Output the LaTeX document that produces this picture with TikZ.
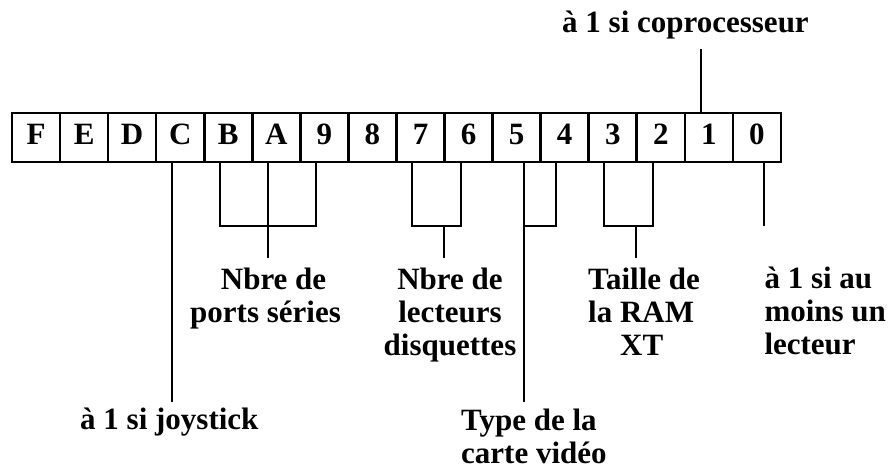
\documentclass[tikz,border=0pt]{standalone}
\usepackage{fontspec}
\setmainfont{Liberation Serif}
\usetikzlibrary{calc}
\begin{document}
\begin{tikzpicture}[x=1pt,y=-1pt,
  bitbox/.style={draw,line width=2.6pt,minimum width=48.06pt,minimum height=49pt,
    inner sep=0pt,text height=21pt,text depth=6pt,
    font=\bfseries\fontsize{31}{33}\selectfont},
  wire/.style={line width=2.3pt},
  lbl/.style={inner sep=0pt,align=left,font=\bfseries\fontsize{31}{33}\selectfont},
]
\useasboundingbox (0,0) rectangle (891,470);

% the sixteen bit cells, F (bit 15) down to 0
\foreach \lab [count=\i from 0] in {F,E,D,C,B,A,9,8,7,6,5,4,3,2,1,0}
  \node[bitbox] (b\lab) at ({12+48.06*(\i+0.5)},137.5) {\lab};

% labels (base anchor = baseline of the last line)
\node[lbl,anchor=base west] (lcop) at (562,33) {à 1 si coprocesseur};
\node[lbl,anchor=base west] (lser) at (190,322) {\hspace*{30.7pt}Nbre de\\ports séries};
\node[lbl,align=center,anchor=base] (ldsk) at (450,355) {Nbre de\\lecteurs\\disquettes};
\node[lbl,anchor=base west] (lram) at (588,355) {Taille de\\la RAM\\\hspace*{32pt}XT};
\node[lbl,anchor=base west] (lflp) at (764.3,354) {à 1 si au\\moins un\\lecteur};
\node[lbl,anchor=base west] (ljoy) at (80,429) {à 1 si joystick};
\node[lbl,anchor=base west] (lvid) at (461,463) {Type de la\\carte vidéo};

% end points and corners of the connectors
\coordinate (tcop) at (701,49);
\coordinate (eC) at (172.3,402);
\coordinate (kB) at (220,225.7);
\coordinate (k9) at (315.7,225.7);
\coordinate (sA) at (267.7,258);
\coordinate (k7) at (412.3,225.7);
\coordinate (k6) at (460.7,225.7);
\coordinate (s76) at (444,258);
\coordinate (e5) at (524.3,402);
\coordinate (k4) at (555.7,225.7);
\coordinate (k3) at (604.3,225.7);
\coordinate (k2) at (652.7,225.7);
\coordinate (s32) at (636,258);
\coordinate (e0) at (764.3,226);

% bit 1: coprocessor
\draw[wire] (b1.north -| tcop) -- (tcop);
% bit C: joystick
\draw[wire] (bC.south -| eC) -- (eC);
% bits B, A, 9: serial ports
\draw[wire] (bB.south -| kB) -- (kB) -- (k9) -- (b9.south -| k9);
\draw[wire] (bA.south -| sA) -- (sA);
% bits 7, 6: floppy drives
\draw[wire] (b7.south -| k7) -- (k7) -- (k6) -- (b6.south -| k6);
\draw[wire] (s76 |- k7) -- (s76);
% bits 5, 4: video card
\draw[wire] (b5.south -| e5) -- (e5);
\draw[wire] (b4.south -| k4) -- (k4) -- (k4 -| e5);
% bits 3, 2: RAM size
\draw[wire] (b3.south -| k3) -- (k3) -- (k2) -- (b2.south -| k2);
\draw[wire] (s32 |- k3) -- (s32);
% bit 0: at least one drive
\draw[wire] (b0.south -| e0) -- (e0);
\end{tikzpicture}
\end{document}
